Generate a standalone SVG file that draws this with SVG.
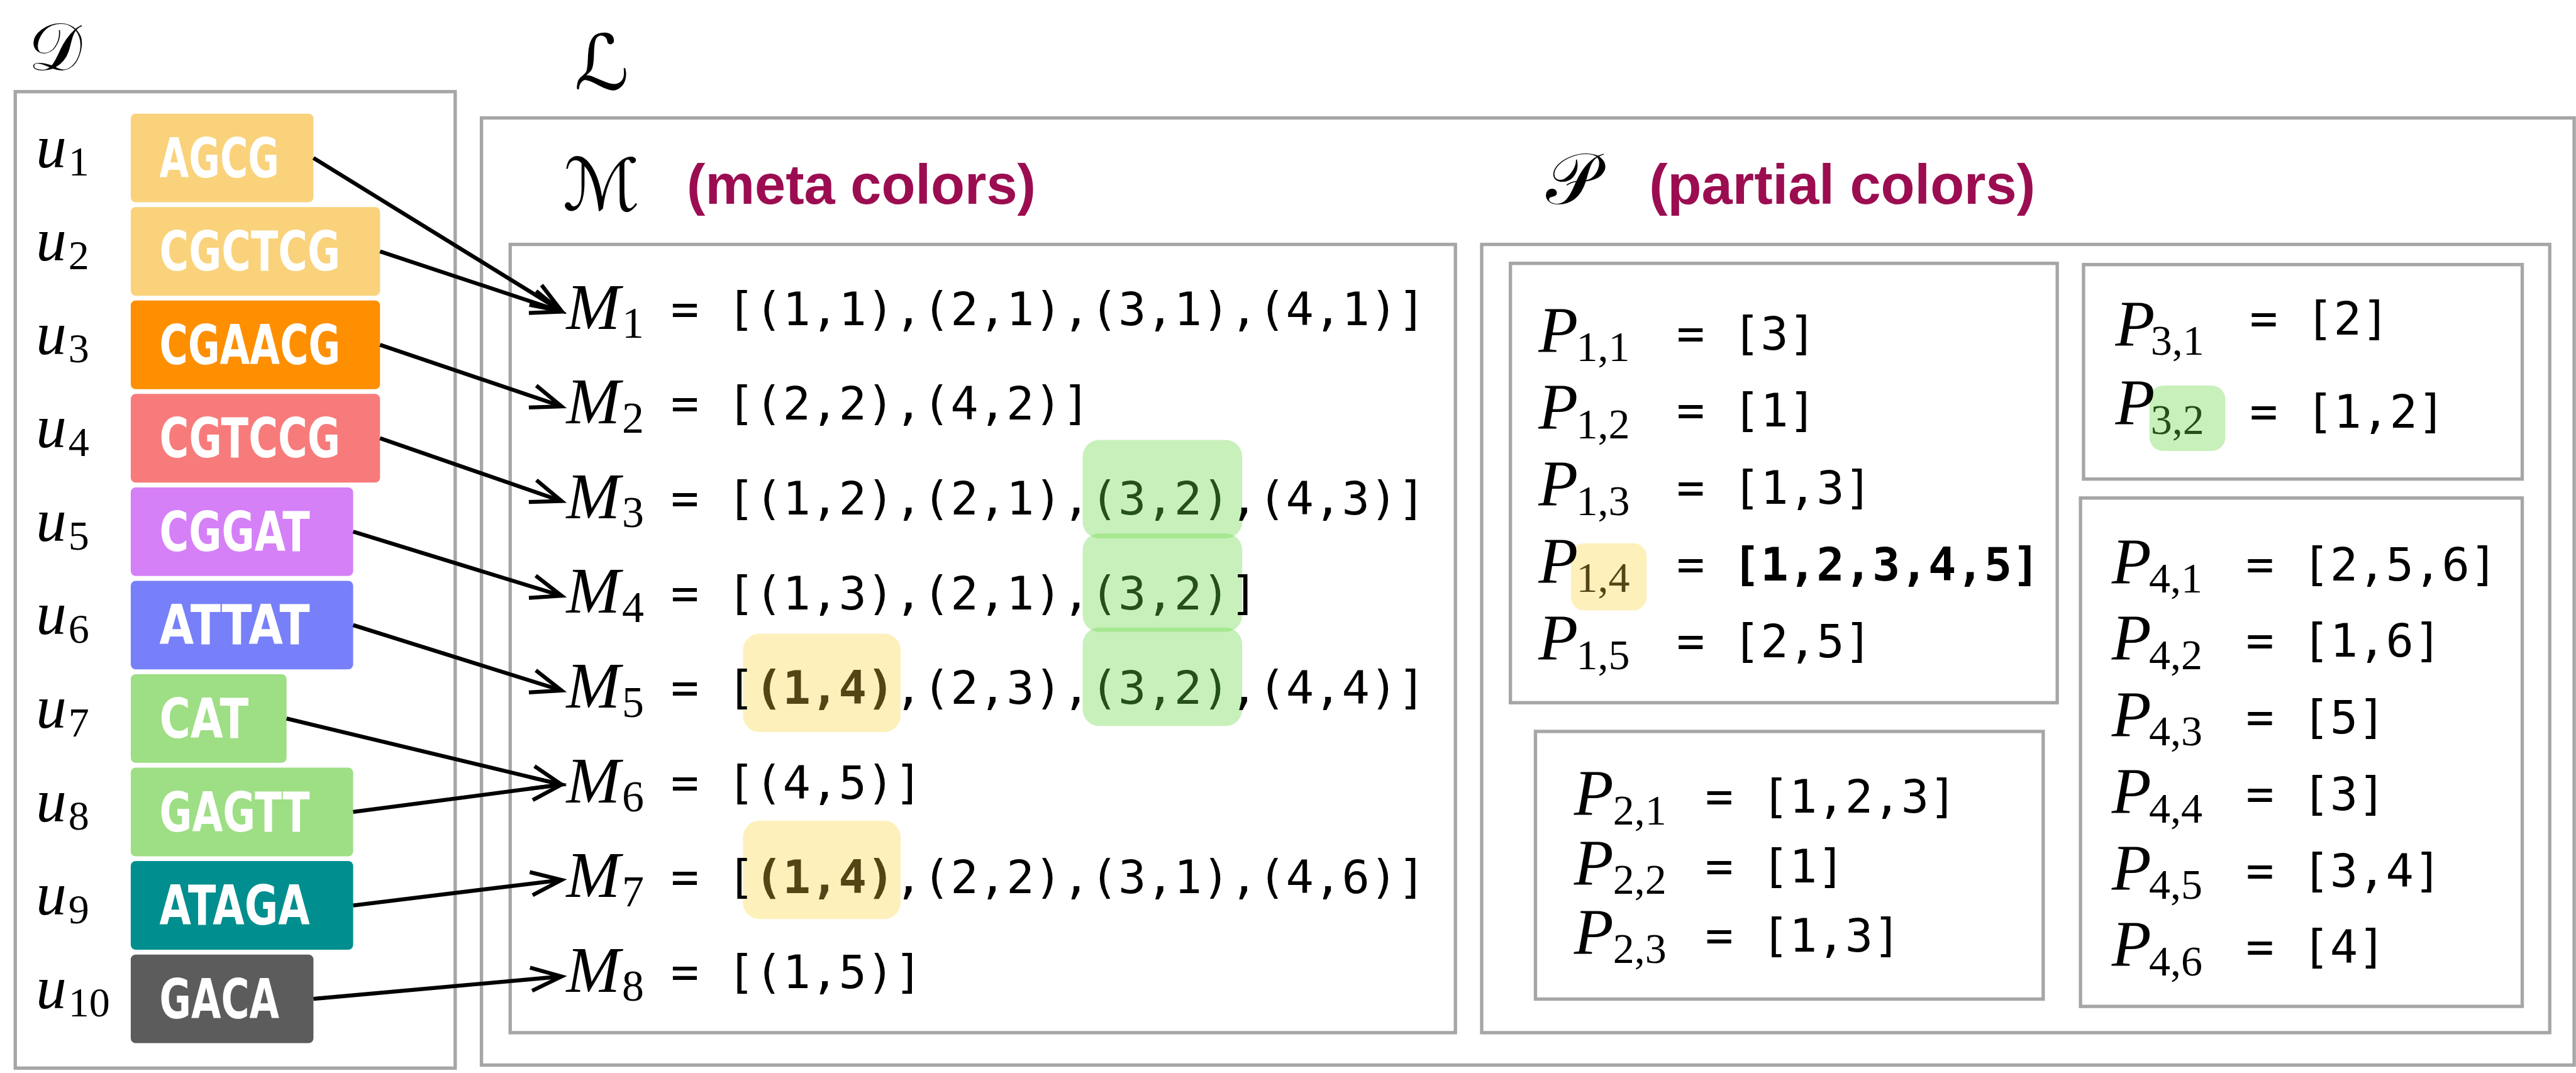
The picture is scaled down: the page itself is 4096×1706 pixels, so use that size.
<svg xmlns="http://www.w3.org/2000/svg" width="4096" height="1706" viewBox="0 0 4096 1706">
<defs>
<style>
.frame{fill:none;stroke:#a6a6a6;stroke-width:5.5}
.seq{font-family:"DejaVu Sans",sans-serif;font-weight:bold;font-size:90px;fill:#fff}
.mi{font-family:"Liberation Serif",serif;font-style:italic;fill:#000}
.sub{font-family:"Liberation Serif",serif;fill:#000}
.mono{font-family:"DejaVu Sans Mono",monospace;font-size:76px;fill:#000}
.cal{font-family:"DejaVu Serif","DejaVu Sans",serif;fill:#000}
.head{font-family:"Liberation Sans",sans-serif;font-weight:bold;font-size:91px;fill:#9b0d50}
.edge{fill:none;stroke:#000;stroke-width:6.5;marker-end:url(#arr)}
.hg{fill:rgb(111,216,75);fill-opacity:0.38}
.hy{fill:#fdf0bb}
.tg{fill:#24501a}
.ty{fill:#544515}
.b{font-weight:bold}
</style>
<marker id="arr" markerUnits="userSpaceOnUse" markerWidth="70" markerHeight="70" viewBox="-60 -35 70 70" refX="0" refY="0" orient="auto" overflow="visible">
<path d="M-50,-19 L0,0 L-50,19" fill="none" stroke="#000" stroke-width="6.5" stroke-linejoin="miter"/>
</marker>
</defs>
<rect width="4096" height="1706" fill="#fff"/>
<g transform="scale(0.971537)">

<!-- data set D -->
<g id="dataset">
<text class="cal" x="46" y="114" font-size="110">𝒟</text>
<rect class="frame" x="25" y="150" width="720" height="1598"/>
</g>
<g id="u1"><rect x="214" y="186" width="299" height="145" rx="8" fill="#f9d27b"/><text class="seq" x="261" y="290" textLength="196" lengthAdjust="spacingAndGlyphs">AGCG</text><text class="mi" x="59" y="273.5" font-size="100">u</text><text class="sub" x="112" y="287.5" font-size="68">1</text></g>
<g id="u2"><rect x="214" y="338.9" width="408" height="145" rx="8" fill="#f9d27b"/><text class="seq" x="261" y="442.9" textLength="296" lengthAdjust="spacingAndGlyphs">CGCTCG</text><text class="mi" x="59" y="426.4" font-size="100">u</text><text class="sub" x="112" y="440.4" font-size="68">2</text></g>
<g id="u3"><rect x="214" y="491.8" width="408" height="145" rx="8" fill="#fe8f00"/><text class="seq" x="261" y="595.8" textLength="296" lengthAdjust="spacingAndGlyphs">CGAACG</text><text class="mi" x="59" y="579.3" font-size="100">u</text><text class="sub" x="112" y="593.3" font-size="68">3</text></g>
<g id="u4"><rect x="214" y="644.7" width="408" height="145" rx="8" fill="#f87b7b"/><text class="seq" x="261" y="748.7" textLength="296" lengthAdjust="spacingAndGlyphs">CGTCCG</text><text class="mi" x="59" y="732.2" font-size="100">u</text><text class="sub" x="112" y="746.2" font-size="68">4</text></g>
<g id="u5"><rect x="214" y="797.6" width="364" height="145" rx="8" fill="#d580f7"/><text class="seq" x="261" y="901.6" textLength="246" lengthAdjust="spacingAndGlyphs">CGGAT</text><text class="mi" x="59" y="885.1" font-size="100">u</text><text class="sub" x="112" y="899.1" font-size="68">5</text></g>
<g id="u6"><rect x="214" y="950.5" width="364" height="145" rx="8" fill="#7780f9"/><text class="seq" x="261" y="1054.5" textLength="246" lengthAdjust="spacingAndGlyphs">ATTAT</text><text class="mi" x="59" y="1038" font-size="100">u</text><text class="sub" x="112" y="1052" font-size="68">6</text></g>
<g id="u7"><rect x="214" y="1103.4" width="255" height="145" rx="8" fill="#9ede85"/><text class="seq" x="261" y="1207.4" textLength="146" lengthAdjust="spacingAndGlyphs">CAT</text><text class="mi" x="59" y="1190.9" font-size="100">u</text><text class="sub" x="112" y="1204.9" font-size="68">7</text></g>
<g id="u8"><rect x="214" y="1256.3" width="364" height="145" rx="8" fill="#9ede85"/><text class="seq" x="261" y="1360.3" textLength="246" lengthAdjust="spacingAndGlyphs">GAGTT</text><text class="mi" x="59" y="1343.8" font-size="100">u</text><text class="sub" x="112" y="1357.8" font-size="68">8</text></g>
<g id="u9"><rect x="214" y="1409.2" width="364" height="145" rx="8" fill="#008e8e"/><text class="seq" x="261" y="1513.2" textLength="246" lengthAdjust="spacingAndGlyphs">ATAGA</text><text class="mi" x="59" y="1496.7" font-size="100">u</text><text class="sub" x="112" y="1510.7" font-size="68">9</text></g>
<g id="u10"><rect x="214" y="1562.1" width="299" height="145" rx="8" fill="#5c5c5c"/><text class="seq" x="261" y="1666.1" textLength="196" lengthAdjust="spacingAndGlyphs">GACA</text><text class="mi" x="59" y="1649.6" font-size="100">u</text><text class="sub" x="112" y="1663.6" font-size="68">10</text></g>

<!-- lookup structure L -->
<g id="lookup">
<text class="cal" x="940" y="146" font-size="125">ℒ</text>
<rect class="frame" x="788" y="193" width="3425" height="1550"/>
</g>

<!-- meta colors M -->
<g id="meta">
<text class="cal" x="921" y="344" font-size="118">ℳ</text>
<text class="head" x="1124" y="333">(meta colors)</text>
<rect class="frame" x="835" y="400" width="1547" height="1290"/>
<rect class="hg" x="1772" y="720" width="261" height="161" rx="27"/>
<rect class="hg" x="1772" y="873" width="261" height="161" rx="27"/>
<rect class="hg" x="1772" y="1027" width="261" height="161" rx="27"/>
<rect class="hy" x="1216" y="1037" width="258" height="161" rx="27"/>
<rect class="hy" x="1216" y="1343" width="258" height="161" rx="27"/>
</g>
<g id="M1"><text class="mi" x="927" y="538" font-size="106">M</text><text class="sub" x="1018" y="553" font-size="72">1</text><text class="mono" x="1098" y="532">= [(1,1),(2,1),(3,1),(4,1)]</text></g>
<g id="M2"><text class="mi" x="927" y="693" font-size="106">M</text><text class="sub" x="1018" y="708" font-size="72">2</text><text class="mono" x="1098" y="687">= [(2,2),(4,2)]</text></g>
<g id="M3"><text class="mi" x="927" y="848" font-size="106">M</text><text class="sub" x="1018" y="863" font-size="72">3</text><text class="mono" x="1098" y="842">= [(1,2),(2,1),<tspan class="tg">(3,2)</tspan>,(4,3)]</text></g>
<g id="M4"><text class="mi" x="927" y="1003" font-size="106">M</text><text class="sub" x="1018" y="1018" font-size="72">4</text><text class="mono" x="1098" y="997">= [(1,3),(2,1),<tspan class="tg">(3,2)</tspan>]</text></g>
<g id="M5"><text class="mi" x="927" y="1158" font-size="106">M</text><text class="sub" x="1018" y="1173" font-size="72">5</text><text class="mono" x="1098" y="1152">= [<tspan class="ty b">(1,4)</tspan>,(2,3),<tspan class="tg">(3,2)</tspan>,(4,4)]</text></g>
<g id="M6"><text class="mi" x="927" y="1313" font-size="106">M</text><text class="sub" x="1018" y="1328" font-size="72">6</text><text class="mono" x="1098" y="1307">= [(4,5)]</text></g>
<g id="M7"><text class="mi" x="927" y="1468" font-size="106">M</text><text class="sub" x="1018" y="1483" font-size="72">7</text><text class="mono" x="1098" y="1462">= [<tspan class="ty b">(1,4)</tspan>,(2,2),(3,1),(4,6)]</text></g>
<g id="M8"><text class="mi" x="927" y="1623" font-size="106">M</text><text class="sub" x="1018" y="1638" font-size="72">8</text><text class="mono" x="1098" y="1617">= [(1,5)]</text></g>

<!-- partial colors P -->
<g id="partial">
<text class="cal" x="2530" y="334" font-size="118">𝒫</text>
<text class="head" x="2699" y="333">(partial colors)</text>
<rect class="frame" x="2425" y="400" width="1748" height="1290"/>
</g>
<g id="P1">
<rect class="frame" x="2472" y="431" width="895" height="719"/>
<rect class="hy" x="2571" y="889" width="124" height="110" rx="22"/>
<text class="mi" x="2518" y="576" font-size="106">P</text><text class="sub" x="2580" y="591" font-size="70">1,1</text><text class="mono" x="2744" y="572">= [3]</text>
<text class="mi" x="2518" y="702" font-size="106">P</text><text class="sub" x="2580" y="717" font-size="70">1,2</text><text class="mono" x="2744" y="698">= [1]</text>
<text class="mi" x="2518" y="828" font-size="106">P</text><text class="sub" x="2580" y="843" font-size="70">1,3</text><text class="mono" x="2744" y="824">= [1,3]</text>
<text class="mi" x="2518" y="954" font-size="106">P</text><text class="sub ty" x="2580" y="969" font-size="70">1,4</text><text class="mono" x="2744" y="950">= <tspan class="b">[1,2,3,4,5]</tspan></text>
<text class="mi" x="2518" y="1080" font-size="106">P</text><text class="sub" x="2580" y="1095" font-size="70">1,5</text><text class="mono" x="2744" y="1076">= [2,5]</text>
</g>
<g id="P2">
<rect class="frame" x="2513" y="1197" width="831" height="438"/>
<text class="mi" x="2576" y="1334" font-size="106">P</text><text class="sub" x="2640" y="1349" font-size="70">2,1</text><text class="mono" x="2791" y="1330">= [1,2,3]</text>
<text class="mi" x="2576" y="1448" font-size="106">P</text><text class="sub" x="2640" y="1463" font-size="70">2,2</text><text class="mono" x="2791" y="1444">= [1]</text>
<text class="mi" x="2576" y="1561" font-size="106">P</text><text class="sub" x="2640" y="1576" font-size="70">2,3</text><text class="mono" x="2791" y="1557">= [1,3]</text>
</g>
<g id="P3">
<rect class="frame" x="3410" y="433" width="718" height="351"/>
<rect class="hg" x="3518" y="631" width="124" height="107" rx="22"/>
<text class="mi" x="3462" y="566" font-size="106">P</text><text class="sub" x="3520" y="581" font-size="70">3,1</text><text class="mono" x="3682" y="548">= [2]</text>
<text class="mi" x="3462" y="695" font-size="106">P</text><text class="sub tg" x="3520" y="710" font-size="70">3,2</text><text class="mono" x="3682" y="700">= [1,2]</text>
</g>
<g id="P4">
<rect class="frame" x="3405" y="815" width="723" height="832"/>
<text class="mi" x="3456" y="955" font-size="106">P</text><text class="sub" x="3517" y="970" font-size="70">4,1</text><text class="mono" x="3676" y="950">= [2,5,6]</text>
<text class="mi" x="3456" y="1080" font-size="106">P</text><text class="sub" x="3517" y="1095" font-size="70">4,2</text><text class="mono" x="3676" y="1075">= [1,6]</text>
<text class="mi" x="3456" y="1205" font-size="106">P</text><text class="sub" x="3517" y="1220" font-size="70">4,3</text><text class="mono" x="3676" y="1200">= [5]</text>
<text class="mi" x="3456" y="1331" font-size="106">P</text><text class="sub" x="3517" y="1346" font-size="70">4,4</text><text class="mono" x="3676" y="1326">= [3]</text>
<text class="mi" x="3456" y="1456" font-size="106">P</text><text class="sub" x="3517" y="1471" font-size="70">4,5</text><text class="mono" x="3676" y="1451">= [3,4]</text>
<text class="mi" x="3456" y="1581" font-size="106">P</text><text class="sub" x="3517" y="1596" font-size="70">4,6</text><text class="mono" x="3676" y="1576">= [4]</text>
</g>

<!-- sequence to meta-color links -->
<g id="connectors">
<line class="edge" x1="513" y1="258.5" x2="919" y2="509"/>
<line class="edge" x1="622" y1="411.4" x2="919" y2="510"/>
<line class="edge" x1="622" y1="564.3" x2="919" y2="665"/>
<line class="edge" x1="622" y1="717.2" x2="919" y2="820"/>
<line class="edge" x1="578" y1="870.1" x2="919" y2="975"/>
<line class="edge" x1="578" y1="1023" x2="919" y2="1130"/>
<line class="edge" x1="469" y1="1175.9" x2="919" y2="1284"/>
<line class="edge" x1="578" y1="1328.8" x2="919" y2="1284"/>
<line class="edge" x1="578" y1="1481.7" x2="919" y2="1440"/>
<line class="edge" x1="513" y1="1634.6" x2="919" y2="1598"/>
</g>
</g>
</svg>
